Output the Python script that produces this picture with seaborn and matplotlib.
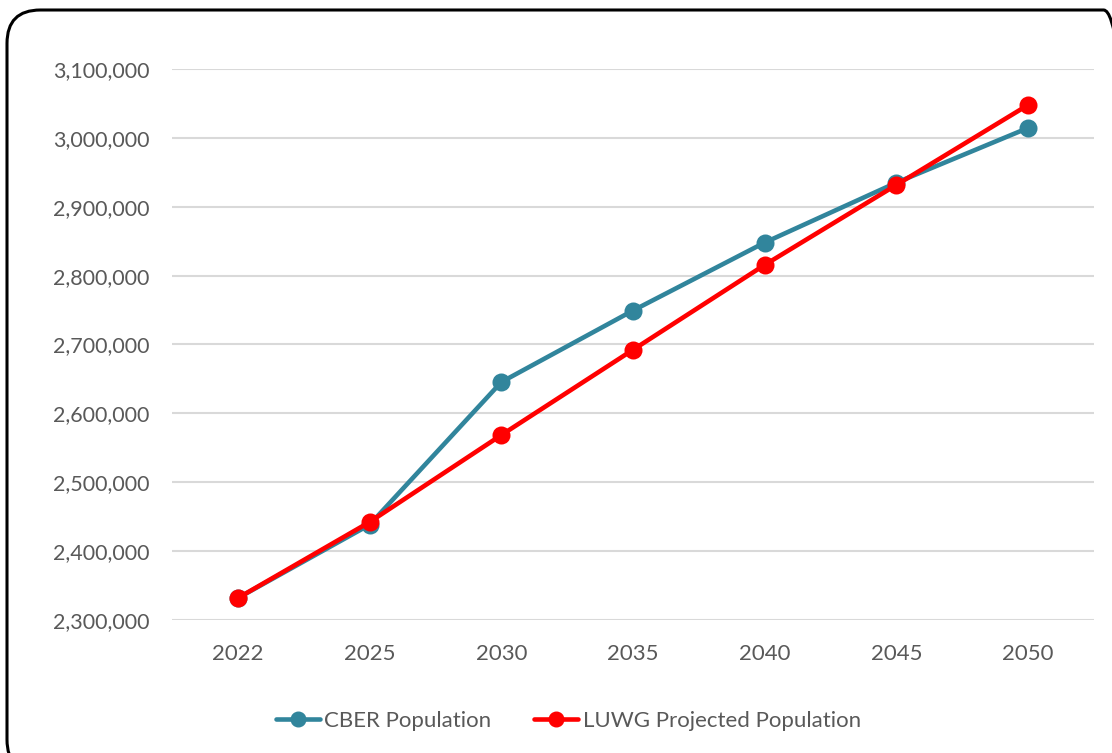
import matplotlib
matplotlib.use("Agg")
import matplotlib.pyplot as plt
from matplotlib.patches import FancyBboxPatch
from matplotlib.lines import Line2D
from matplotlib.ticker import FuncFormatter, MultipleLocator
import seaborn as sns
import pandas as pd

# Population projections by year
years = ["2022", "2025", "2030", "2035", "2040", "2045", "2050"]
cber_population = [2331900, 2438300, 2645400, 2749300, 2848000, 2935000, 3014400]
luwg_population = [2331900, 2442200, 2568500, 2692300, 2815600, 2931700, 3047800]
series_names = ["CBER Population", "LUWG Projected Population"]
series_colors = ["#31859C", "#FF0000"]

df = pd.concat([
    pd.DataFrame({"Year": years, "Population": cber_population, "Series": series_names[0]}),
    pd.DataFrame({"Year": years, "Population": luwg_population, "Series": series_names[1]}),
])

sns.set_theme(style="white")
plt.rcParams["font.family"] = ["Lato", "DejaVu Sans"]

text_color = "#595959"
fig = plt.figure(figsize=(11.12, 7.53), dpi=100)
ax = fig.add_axes([0.1547, 0.1766, 0.8291, 0.7318])

sns.pointplot(
    data=df, x="Year", y="Population", hue="Series", order=years,
    hue_order=series_names, palette=series_colors, markers="o",
    errorbar=None, legend=False, ax=ax,
    markersize=10.5, linewidth=3.3,
)

ax.set_xlim(-0.5, len(years) - 0.5)
ax.set_ylim(2300000, 3100000)
ax.yaxis.set_major_locator(MultipleLocator(100000))
ax.yaxis.set_major_formatter(FuncFormatter(lambda v, _: f"{v:,.0f}"))
ax.grid(axis="y", color="#D9D9D9", linewidth=1.5)
ax.set_axisbelow(True)
for s in ax.spines.values():
    s.set_visible(False)
ax.set_xlabel("")
ax.set_ylabel("")
ax.tick_params(axis="y", labelsize=15.5, colors=text_color, pad=16.5, length=0)
ax.tick_params(axis="x", labelsize=16, colors=text_color, pad=17, length=0)

handles = [
    Line2D([], [], color=c, linewidth=3.3, marker="o", markersize=10.5)
    for c in series_colors
]
fig.legend(
    handles, series_names, loc="center", bbox_to_anchor=(0.511, 0.043),
    ncol=2, frameon=False, fontsize=16, labelcolor=text_color,
    handlelength=2.0, handletextpad=0.2, columnspacing=1.9,
)

# rounded chart-area border
border = FancyBboxPatch(
    (7 / 1112, -20 / 753), 1130 / 1112, 763 / 753,
    boxstyle="round,pad=0,rounding_size=0.03",
    transform=fig.transFigure, facecolor="none", edgecolor="black",
    linewidth=2.2, mutation_aspect=1112 / 753,
)
fig.patches.append(border)

fig.savefig("out.png", dpi=100, facecolor="white")
